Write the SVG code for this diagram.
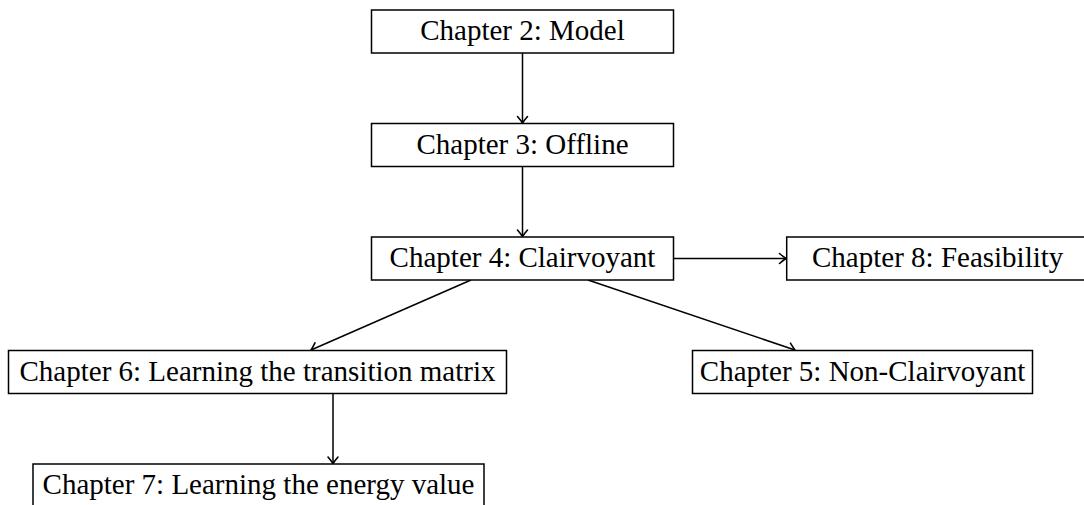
<svg xmlns="http://www.w3.org/2000/svg" width="1084" height="505" viewBox="0 0 1084 505">
<style>
.box{fill:#fff;stroke:#000;stroke-width:1.5}
.lbl{font-family:"Liberation Serif","DejaVu Serif",serif;font-size:29px;fill:#000;text-anchor:middle}
.edge{fill:none;stroke:#000;stroke-width:1.5}
</style>
<defs>
<marker id="arr" markerUnits="userSpaceOnUse" markerWidth="14" markerHeight="14" viewBox="-10 -7 14 14" refX="0" refY="0" orient="auto">
<path d="M-6.5,-5 Q-2.4,-1.5 0,0 Q-2.4,1.5 -6.5,5" fill="none" stroke="#000" stroke-width="1.6" stroke-linecap="round" stroke-linejoin="round"/>
</marker>
</defs>
<rect width="1084" height="505" fill="#fff"/>
<g id="connectors">
<line class="edge" x1="522.5" y1="53" x2="522.5" y2="123" marker-end="url(#arr)"/>
<line class="edge" x1="522.5" y1="166.5" x2="522.5" y2="236.5" marker-end="url(#arr)"/>
<line class="edge" x1="673.5" y1="258.5" x2="786" y2="258.5" marker-end="url(#arr)"/>
<line class="edge" x1="471" y1="280" x2="311" y2="350" marker-end="url(#arr)"/>
<line class="edge" x1="588" y1="280" x2="795" y2="350" marker-end="url(#arr)"/>
<line class="edge" x1="333" y1="393.5" x2="333" y2="463.5" marker-end="url(#arr)"/>
</g>
<g id="ch2">
<rect class="box" x="371.5" y="10" width="302" height="43"/>
<text class="lbl" x="522.5" y="40">Chapter 2: Model</text>
</g>
<g id="ch3">
<rect class="box" x="371.5" y="123.5" width="302" height="43"/>
<text class="lbl" x="522.5" y="153.5">Chapter 3: Offline</text>
</g>
<g id="ch4">
<rect class="box" x="371.5" y="237" width="302" height="43"/>
<text class="lbl" x="522.5" y="267">Chapter 4: Clairvoyant</text>
</g>
<g id="ch8">
<rect class="box" x="786.7" y="237" width="302" height="43"/>
<text class="lbl" x="937.7" y="267">Chapter 8: Feasibility</text>
</g>
<g id="ch6">
<rect class="box" x="8.5" y="350.5" width="498" height="43"/>
<text class="lbl" x="257.5" y="380.5">Chapter 6: Learning the transition matrix</text>
</g>
<g id="ch5">
<rect class="box" x="692.5" y="350.5" width="340" height="43"/>
<text class="lbl" x="862.5" y="380.5">Chapter 5: Non-Clairvoyant</text>
</g>
<g id="ch7">
<rect class="box" x="33" y="464" width="451" height="43"/>
<text class="lbl" x="258.5" y="494">Chapter 7: Learning the energy value</text>
</g>
</svg>
